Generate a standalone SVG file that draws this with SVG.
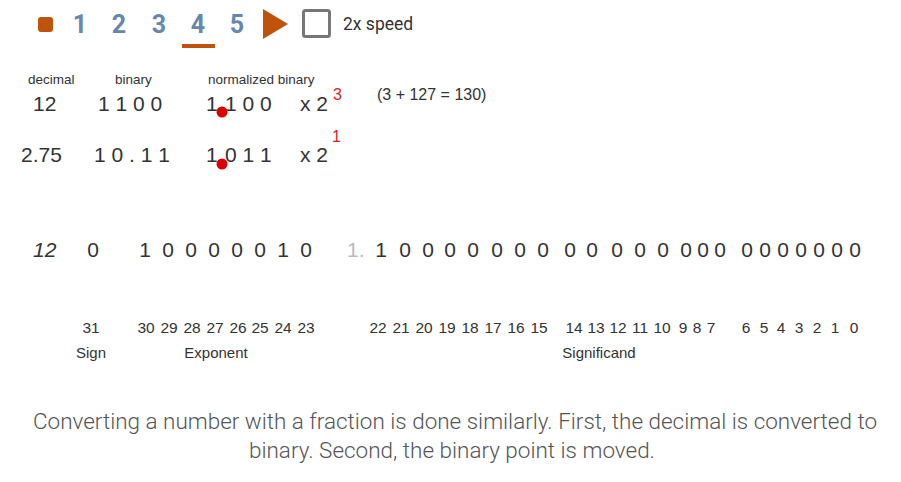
<svg xmlns="http://www.w3.org/2000/svg" width="901" height="482" viewBox="0 0 901 482">
<style>
.ctl{font-family:Roboto,"Liberation Sans",sans-serif;font-weight:700;font-size:25px;fill:#6787ac;text-anchor:middle}
.hd{font-family:"Liberation Sans",Arial,sans-serif;font-size:13.5px;fill:#333}
.v{font-family:"Liberation Sans",Arial,sans-serif;font-size:21px;fill:#333}
.sup{font-family:"Liberation Sans",Arial,sans-serif;font-size:16px;fill:#e21b1b}
.b{font-family:"Liberation Sans",Arial,sans-serif;font-size:21px;fill:#333;text-anchor:middle}
.ix{font-family:"Liberation Sans",Arial,sans-serif;font-size:15.5px;fill:#333;text-anchor:middle}
.lb{font-family:"Liberation Sans",Arial,sans-serif;font-size:15px;fill:#333;text-anchor:middle}
.cap{font-family:Roboto,"Liberation Sans",sans-serif;font-weight:300;font-size:22px;fill:#555}
.dot{fill:#dd0000}
</style>
<rect width="901" height="482" fill="#fff"/>
<g id="controls">
<rect x="38" y="17" width="15" height="15" rx="3" fill="#c0530b"/>
<text class="ctl" x="80" y="33">1</text>
<text class="ctl" x="119" y="33">2</text>
<text class="ctl" x="159" y="33">3</text>
<text class="ctl" x="198" y="33">4</text>
<text class="ctl" x="237" y="33">5</text>
<rect x="182" y="44" width="33" height="4" fill="#c0530b"/>
<polygon points="263,9 263,39 288,24" fill="#c0530b"/>
<rect x="303.5" y="10.5" width="26" height="26" rx="2" fill="#fff" stroke="#777" stroke-width="3"/>
<text x="343" y="30" font-family="Roboto,'Liberation Sans',sans-serif" font-size="17.5" fill="#333">2x speed</text>
</g>
<g id="headers">
<text class="hd" x="28" y="84">decimal</text>
<text class="hd" x="115" y="84">binary</text>
<text class="hd" x="208" y="84">normalized binary</text>
</g>
<g id="row1">
<text class="v" x="33" y="111">12</text>
<text class="v" x="98" y="111" xml:space="preserve">1 1 0 0</text>
<text class="v" x="206" y="111">1</text>
<text class="v" x="225" y="111" xml:space="preserve">1 0 0</text>
<circle class="dot" cx="222" cy="112" r="5.5"/>
<text class="v" x="300" y="111" xml:space="preserve">x 2</text>
<text class="sup" x="333" y="100">3</text>
<text x="377" y="100" font-family="'Liberation Sans',Arial,sans-serif" font-size="16" fill="#333">(3 + 127 = 130)</text>
</g>
<g id="row2">
<text class="v" x="21" y="162">2.75</text>
<text class="v" x="94" y="162" xml:space="preserve">1 0 . 1 1</text>
<text class="v" x="206" y="162">1</text>
<text class="v" x="225" y="162" xml:space="preserve">0 1 1</text>
<circle class="dot" cx="222" cy="164" r="5.5"/>
<text class="v" x="300" y="162" xml:space="preserve">x 2</text>
<text class="sup" x="332" y="142">1</text>
</g>
<g id="bits">
<text x="33" y="257" font-family="'Liberation Sans',Arial,sans-serif" font-size="21" font-style="italic" fill="#333">12</text>
<text class="b" x="93" y="257">0</text>
<text class="b" x="145" y="257">1</text>
<text class="b" x="168" y="257">0</text>
<text class="b" x="191" y="257">0</text>
<text class="b" x="214" y="257">0</text>
<text class="b" x="237" y="257">0</text>
<text class="b" x="260" y="257">0</text>
<text class="b" x="283" y="257">1</text>
<text class="b" x="306" y="257">0</text>
<text x="347" y="257" font-family="'Liberation Sans',Arial,sans-serif" font-size="21" fill="#bbb">1.</text>
<text class="b" x="381" y="257">1</text>
<text class="b" x="405" y="257">0</text>
<text class="b" x="428" y="257">0</text>
<text class="b" x="450" y="257">0</text>
<text class="b" x="473" y="257">0</text>
<text class="b" x="497" y="257">0</text>
<text class="b" x="520" y="257">0</text>
<text class="b" x="543" y="257">0</text>
<text class="b" x="570" y="257">0</text>
<text class="b" x="592" y="257">0</text>
<text class="b" x="617" y="257">0</text>
<text class="b" x="640" y="257">0</text>
<text class="b" x="663" y="257">0</text>
<text class="b" x="686" y="257">0</text>
<text class="b" x="703" y="257">0</text>
<text class="b" x="720" y="257">0</text>
<text class="b" x="747" y="257">0</text>
<text class="b" x="765" y="257">0</text>
<text class="b" x="783" y="257">0</text>
<text class="b" x="801" y="257">0</text>
<text class="b" x="819" y="257">0</text>
<text class="b" x="837" y="257">0</text>
<text class="b" x="855" y="257">0</text>
</g>
<g id="indices">
<text class="ix" x="91" y="333">31</text>
<text class="ix" x="146" y="333">30</text>
<text class="ix" x="169" y="333">29</text>
<text class="ix" x="192" y="333">28</text>
<text class="ix" x="215" y="333">27</text>
<text class="ix" x="238" y="333">26</text>
<text class="ix" x="260" y="333">25</text>
<text class="ix" x="283" y="333">24</text>
<text class="ix" x="306" y="333">23</text>
<text class="ix" x="378" y="333">22</text>
<text class="ix" x="401" y="333">21</text>
<text class="ix" x="424" y="333">20</text>
<text class="ix" x="447" y="333">19</text>
<text class="ix" x="470" y="333">18</text>
<text class="ix" x="493" y="333">17</text>
<text class="ix" x="516" y="333">16</text>
<text class="ix" x="539" y="333">15</text>
<text class="ix" x="574" y="333">14</text>
<text class="ix" x="596" y="333">13</text>
<text class="ix" x="618" y="333">12</text>
<text class="ix" x="640" y="333">11</text>
<text class="ix" x="662" y="333">10</text>
<text class="ix" x="683" y="333">9</text>
<text class="ix" x="697" y="333">8</text>
<text class="ix" x="711" y="333">7</text>
<text class="ix" x="746" y="333">6</text>
<text class="ix" x="764" y="333">5</text>
<text class="ix" x="781" y="333">4</text>
<text class="ix" x="799" y="333">3</text>
<text class="ix" x="817" y="333">2</text>
<text class="ix" x="835" y="333">1</text>
<text class="ix" x="854" y="333">0</text>
</g>
<g id="labels">
<text class="lb" x="91" y="358">Sign</text>
<text class="lb" x="216" y="358">Exponent</text>
<text class="lb" x="599" y="358">Significand</text>
</g>
<g id="caption">
<text class="cap" x="33" y="429" textLength="844" lengthAdjust="spacingAndGlyphs">Converting a number with a fraction is done similarly. First, the decimal is converted to</text>
<text class="cap" x="249" y="458" textLength="406" lengthAdjust="spacingAndGlyphs">binary. Second, the binary point is moved.</text>
</g>
</svg>
